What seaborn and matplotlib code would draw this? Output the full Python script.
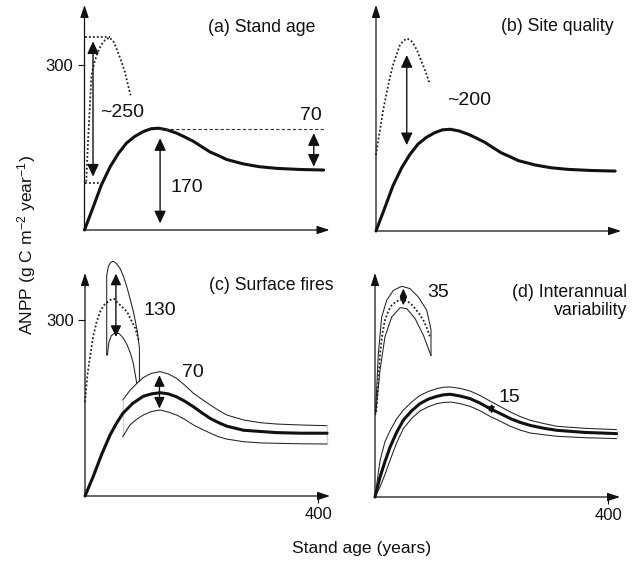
import matplotlib
matplotlib.use("Agg")
import matplotlib.pyplot as plt
import seaborn as sns

# ---------------- data ----------------
# common late-successional ANPP trajectory, panels (a) and (b)  [g C m-2 yr-1]
main_age = [0, 15, 29, 44, 58, 72, 86, 101, 114, 127, 142, 158, 172, 187, 200, 215, 230, 244, 273, 300, 330, 370, 410]
main_val = [0, 42, 82, 115, 139, 158, 170, 179, 184, 185, 182, 176, 169, 161, 152, 142, 135, 128, 120, 115, 112, 110, 109]

# (a) Stand age: early dotted trajectory
a_dot_age = [3, 6, 9, 12, 17, 23, 29, 35, 43, 50, 57, 63, 69, 74, 79]
a_dot_val = [88, 160, 221, 282, 305, 324, 337, 345, 350, 342, 324, 307, 288, 266, 245]
a_dot_peak = 350
a_cross_level = 85
a_cross_age = 29
a_main_peak = 183

# (b) Site quality: dotted trajectory
b_dot_age = [0, 3, 7, 12, 18, 24, 30, 41, 47, 53, 59, 64, 71, 78, 85, 92]
b_dot_val = [138, 160, 184, 218, 250, 280, 305, 338, 346, 350, 347, 341, 327, 308, 290, 268]

# (c) Surface fires
c_main_age = [0, 14, 29, 43, 54, 65, 82, 100, 114, 129, 143, 157, 172, 186, 200, 215, 229, 243, 272, 300, 329, 370, 415]
c_main_val = [0, 33, 72, 104, 124, 141, 158, 170, 174, 176, 174, 169, 161, 152, 142, 132, 125, 119, 112, 110, 108, 107, 107]
c_band_age = [64.7, 77, 89, 100, 114, 129, 143, 157, 172, 186, 200, 215, 229, 243, 272, 300, 329, 370, 415]
c_band_up = [163.5, 180, 192, 202, 209, 212, 208, 200.5, 188, 175, 165, 155, 146, 138, 129.5, 125, 122.6, 121, 119.8]
c_band_lo = [101, 121, 131, 138, 144, 146.5, 143, 138, 130, 121, 114, 107, 101, 97, 92.5, 90.5, 89.8, 89, 88.6]
c_dot_age = [0, 4, 9, 14, 20, 26, 32, 43, 50, 54, 63, 72, 79, 86, 92]
c_dot_val = [160, 205, 240, 272, 297, 314, 325, 334, 336, 331, 323, 314, 300, 286, 266]
c_env_up_age = [37.2, 37.2, 40, 44, 48.6, 54, 60, 66, 71.6, 77, 83, 89.8, 93.3, 93.3]
c_env_up_val = [240, 376, 391, 398, 400, 396, 388, 374, 357, 337, 314, 280, 252, 195]
c_env_lo_age = [38.3, 41, 45, 51.5, 58, 65, 72, 78, 83, 86, 88.7]
c_env_lo_val = [240, 262, 273, 278, 277, 270, 258, 243, 225, 208, 192]

# (d) Interannual variability
d_age = [0, 8.6, 17, 25.8, 37, 48.6, 63, 77, 92, 106, 117, 129, 146, 163, 180, 197, 215, 232, 249, 266, 290, 312, 360, 414]
d_main = [0, 34, 60, 85, 110, 131, 147, 159, 167, 171.5, 174, 175, 172, 167.6, 160, 150.6, 142, 133.6, 127, 122, 117, 113.6, 110, 108]
d_up = [0, 62, 94, 113, 133, 148, 162, 173, 180, 184.6, 187, 187.4, 185, 180.6, 173, 163.5, 154, 144.8, 137, 130.7, 125, 120.4, 117, 114.8]
d_lo = [0, 17, 38, 62.5, 92, 116.5, 134, 146.5, 154, 159, 161, 161.8, 159, 154.5, 147, 137.5, 129, 120.4, 114, 109, 106, 103.4, 101, 99.5]
d_dot_age = [2, 4, 8.6, 13, 17, 23, 28.6, 36, 43, 54.4, 62, 68.7, 76, 83, 89, 94.4]
d_dot_val = [145, 170, 244, 280, 301, 317, 326.6, 333, 336, 334, 329, 321, 312, 301, 288, 272.6]
d_env_up_age = [1, 5.7, 11.5, 20, 31.5, 45.8, 60, 74.4, 88.7, 96, 96]
d_env_up_val = [145, 244, 306.6, 335, 352, 359, 355, 340.7, 318, 285, 241]
d_env_lo_age = [1, 8.6, 17, 28.6, 43, 54.4, 68.7, 83, 91.5, 96]
d_env_lo_val = [140, 216, 272.6, 306.6, 322.6, 321, 304, 275.5, 252.8, 241]

panel_titles = ["(a) Stand age", "(b) Site quality", "(c) Surface fires", "(d) Interannual\nvariability"]
y_tick = [300]
y_tick_label = ["300"]
x_tick = [400]
x_tick_label = ["400"]

# ---------------- style ----------------
sns.set_theme(style="ticks")
plt.rcParams["font.family"] = ["Liberation Sans", "DejaVu Sans"]
plt.rcParams["mathtext.fontset"] = "custom"
plt.rcParams["mathtext.rm"] = "Liberation Sans"
plt.rcParams["mathtext.it"] = "Liberation Sans:italic"

INK = "#111111"
THIN = "#222222"
W, H = 635, 561
fig = plt.figure(figsize=(W / 100, H / 100), dpi=100)
fig.patch.set_facecolor("white")


def make_ax(left, bottom_px, width, top_px, ytop):
    ax = fig.add_axes([left / W, 1 - bottom_px / H, width / W, (bottom_px - top_px) / H])
    ax.set_xlim(0, 420)
    ax.set_ylim(0, ytop)
    for s in ax.spines.values():
        s.set_visible(False)
    ax.set_facecolor("none")
    ax.set_xticks([])
    ax.set_yticks([])
    arrow = dict(arrowstyle="-|>,head_length=0.75,head_width=0.25", lw=0.9, color=INK,
                 mutation_scale=10, shrinkA=0, shrinkB=0)
    ax.annotate("", xy=(1, 0), xytext=(0, 0), xycoords="axes fraction", arrowprops=arrow)
    ax.annotate("", xy=(0, 1), xytext=(0, 0), xycoords="axes fraction", arrowprops=arrow)
    ax.tick_params(direction="out", length=5, width=0.8, colors=INK, labelsize=12, pad=3)
    return ax


ax_a = make_ax(84.5, 230, 245, 5, 409)
ax_b = make_ax(376, 231, 245, 5, 411)
ax_c = make_ax(85, 496, 245, 273, 380)
ax_d = make_ax(375, 497, 245, 273, 381.6)

for ax in (ax_a, ax_c):
    ax.set_yticks(y_tick)
    ax.set_yticklabels(y_tick_label)
for ax in (ax_c, ax_d):
    ax.set_xticks(x_tick)
    ax.set_xticklabels(x_tick_label)


def curve(ax, x, y, kind):
    if kind == "main":
        kw = dict(color=INK, linewidth=2.2)
    elif kind == "thin":
        kw = dict(color=THIN, linewidth=0.75)
    else:
        kw = dict(color=THIN, linewidth=1.3, linestyle=(0, (1, 1.2)))
    sns.lineplot(x=x, y=y, ax=ax, sort=False, estimator=None, clip_on=False, **kw)


def darrow(ax, x, y0, y1, scale=10, hw=0.35, hl=0.75):
    ax.annotate("", xy=(x, y1), xytext=(x, y0), xycoords="data",
                arrowprops=dict(arrowstyle=f"<|-|>,head_length={hl},head_width={hw}",
                                lw=1.0, color=INK, mutation_scale=scale, shrinkA=0, shrinkB=0),
                annotation_clip=False)


NUM = 14
TIT = 12.7

# ---- (a) ----
curve(ax_a, main_age, main_val, "main")
curve(ax_a, a_dot_age, a_dot_val, "dot")
sns.lineplot(x=[0, a_dot_age[a_dot_val.index(a_dot_peak)]], y=[a_dot_peak, a_dot_peak], ax=ax_a,
             color=THIN, linewidth=1.3, linestyle=(0, (1, 1.2)))
sns.lineplot(x=[0, a_cross_age], y=[a_cross_level, a_cross_level], ax=ax_a,
             color=THIN, linewidth=1.3, linestyle=(0, (1, 1.2)))
sns.lineplot(x=[127, main_age[-1]], y=[a_main_peak, a_main_peak], ax=ax_a,
             color="#333333", linewidth=0.8, linestyle=(0, (3, 2)))
darrow(ax_a, 14.6, 97, 343)
darrow(ax_a, 129.6, 12, 167)
darrow(ax_a, 393, 115, 176)
ax_a.text(27, 214, "~250", fontsize=NUM, color=INK, ha="left", va="center")
ax_a.text(147, 77, "170", fontsize=NUM, color=INK, ha="left", va="center")
ax_a.text(388, 208, "70", fontsize=NUM, color=INK, ha="center", va="center")
ax_a.text(396, 368, panel_titles[0], fontsize=TIT, color=INK, ha="right", va="center")

# ---- (b) ----
curve(ax_b, main_age, main_val, "main")
curve(ax_b, b_dot_age, b_dot_val, "dot")
darrow(ax_b, 52.7, 156, 320)
ax_b.text(122, 238, "~200", fontsize=NUM, color=INK, ha="left", va="center")
ax_b.text(407, 371, panel_titles[1], fontsize=TIT, color=INK, ha="right", va="center")

# ---- (c) ----
curve(ax_c, c_main_age, c_main_val, "main")
curve(ax_c, c_band_age, c_band_up, "thin")
curve(ax_c, c_band_age, c_band_lo, "thin")
sns.lineplot(x=[c_band_age[0]] * 2, y=[c_band_lo[0], c_band_up[0]], ax=ax_c, color=THIN, linewidth=0.75)
sns.lineplot(x=[c_band_age[-1]] * 2, y=[c_band_lo[-1], c_band_up[-1]], ax=ax_c, color=THIN, linewidth=0.75)
curve(ax_c, c_dot_age, c_dot_val, "dot")
curve(ax_c, c_env_up_age, c_env_up_val, "thin")
curve(ax_c, c_env_lo_age, c_env_lo_val, "thin")
darrow(ax_c, 53, 271, 379, scale=9)
darrow(ax_c, 127.6, 149, 206, scale=9)
ax_c.text(100, 315.5, "130", fontsize=NUM, color=INK, ha="left", va="center")
ax_c.text(166, 210, "70", fontsize=NUM, color=INK, ha="left", va="center")
ax_c.text(426, 358, panel_titles[2], fontsize=TIT, color=INK, ha="right", va="center")

# ---- (d) ----
curve(ax_d, d_age, d_main, "main")
curve(ax_d, d_age, d_up, "thin")
curve(ax_d, d_age, d_lo, "thin")
sns.lineplot(x=[d_age[-1]] * 2, y=[d_lo[-1], d_up[-1]], ax=ax_d, color=THIN, linewidth=0.75)
curve(ax_d, d_dot_age, d_dot_val, "dot")
curve(ax_d, d_env_up_age, d_env_up_val, "thin")
curve(ax_d, d_env_lo_age, d_env_lo_val, "thin")
darrow(ax_d, 48.6, 326.6, 355, scale=6)
darrow(ax_d, 200, 142, 159, scale=5)
ax_d.text(88.7, 349, "35", fontsize=NUM, color=INK, ha="left", va="center")
ax_d.text(211, 169, "15", fontsize=NUM, color=INK, ha="left", va="center")
ax_d.text(432, 333, panel_titles[3], fontsize=TIT, color=INK, ha="right", va="center",
          linespacing=1.05, multialignment="right")

# ---- shared axis labels ----
fig.text(362 / W, 1 - 548 / H, "Stand age (years)", fontsize=12.6, color=INK, ha="center", va="center")
fig.text(27 / W, 1 - 245 / H, r"ANPP (g C m$^{-2}$ year$^{-1}$)", fontsize=12.6, color=INK,
         ha="center", va="center", rotation=90)

fig.savefig("out.png", dpi=100, facecolor="white")
